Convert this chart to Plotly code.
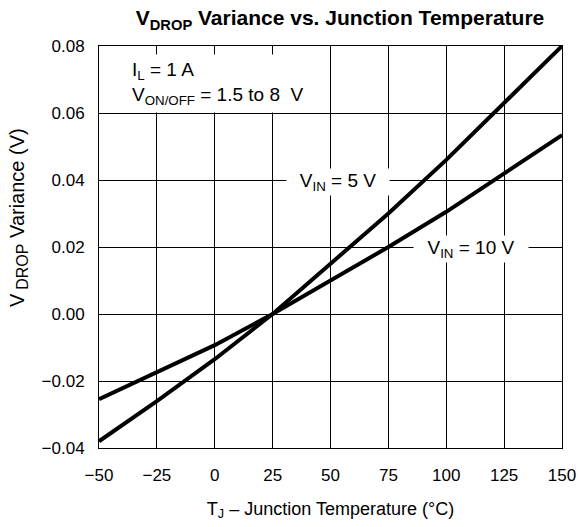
import plotly.graph_objects as go

temps = [-50, -25, 0, 25, 50, 75, 100, 125, 150]
vin5 = [-0.038, -0.026, -0.0135, 0.0, 0.015, 0.030, 0.046, 0.063, 0.080]
vin10 = [-0.0254, -0.0175, -0.0093, 0.0, 0.010, 0.020, 0.0305, 0.042, 0.0534]

x_ticks = [-50, -25, 0, 25, 50, 75, 100, 125, 150]
y_ticks = [-0.04, -0.02, 0.0, 0.02, 0.04, 0.06, 0.08]
y_tick_text = ["\u22120.04", "\u22120.02", "0.00", "0.02", "0.04", "0.06", "0.08"]
x_tick_text = ["\u221250", "\u221225", "0", "25", "50", "75", "100", "125", "150"]

FONT = "Liberation Sans, Arial, Helvetica, sans-serif"

L, R, T, B = 99, 16, 46, 79
W, H = 578, 527
PW, PH = W - L - R, H - T - B

fig = go.Figure()
fig.add_trace(go.Scatter(x=temps, y=vin5, mode="lines", line=dict(color="black", width=4), showlegend=False))
fig.add_trace(go.Scatter(x=temps, y=vin10, mode="lines", line=dict(color="black", width=4), showlegend=False))

fig.update_layout(
    width=W, height=H,
    margin=dict(l=L, r=R, t=T, b=B),
    paper_bgcolor="white", plot_bgcolor="white",
    font=dict(family=FONT, size=17, color="black"),
    title=dict(text="<b>V<sub>DROP</sub> Variance vs. Junction Temperature</b>",
               x=340 / W, xanchor="center", y=1 - 18 / H, yanchor="middle",
               font=dict(size=21, family=FONT, color="black")),
)
fig.update_xaxes(range=[-50, 150], tickvals=x_ticks, ticktext=x_tick_text,
                 showgrid=True, gridcolor="black", gridwidth=1,
                 showline=True, linecolor="black", linewidth=1, mirror=True,
                 zeroline=False, ticks="", ticklabelstandoff=12, automargin=False,
                 tickfont=dict(size=17),
                 title=dict(text="T<sub>J</sub> \u2013 Junction Temperature (\u00b0C)", standoff=17,
                            font=dict(size=18)))
fig.update_yaxes(range=[-0.04, 0.08], tickvals=y_ticks, ticktext=y_tick_text,
                 showgrid=True, gridcolor="black", gridwidth=1,
                 showline=True, linecolor="black", linewidth=1, mirror=True,
                 zeroline=False, ticks="", ticklabelstandoff=10, automargin=False,
                 tickfont=dict(size=17))

# y-axis title as a rotated annotation (paper coords relative to the plot area)
fig.add_annotation(x=(18 - L) / PW, y=(H - B - 218) / PH, xref="paper", yref="paper",
                   xanchor="center", yanchor="middle", textangle=-90,
                   text="V<sub> <span style='font-size:16px'>DROP</span></sub> Variance (V)",
                   showarrow=False, font=dict(size=20))

fig.add_annotation(x=-38, y=0.0687, xref="x", yref="y", xanchor="left", yanchor="middle",
                   text="I<sub>L</sub> = 1 A<br>V<sub>ON/OFF</sub> = 1.5 to 8  V", align="left",
                   showarrow=False, bgcolor="white", borderpad=4, font=dict(size=19))
fig.add_annotation(x=53.2, y=0.0394, xref="x", yref="y", xanchor="center", yanchor="middle",
                   text="V<sub>IN</sub> = 5 V", showarrow=False, bgcolor="white", width=100,
                   borderpad=1, font=dict(size=19))
fig.add_annotation(x=110.7, y=0.0194, xref="x", yref="y", xanchor="center", yanchor="middle",
                   text="V<sub>IN</sub> = 10 V", showarrow=False, bgcolor="white", width=112,
                   borderpad=1, font=dict(size=19))

fig.write_html("out.html", config={"displayModeBar": False},
               post_script="document.body.style.margin='0';document.body.style.overflow='hidden';")
